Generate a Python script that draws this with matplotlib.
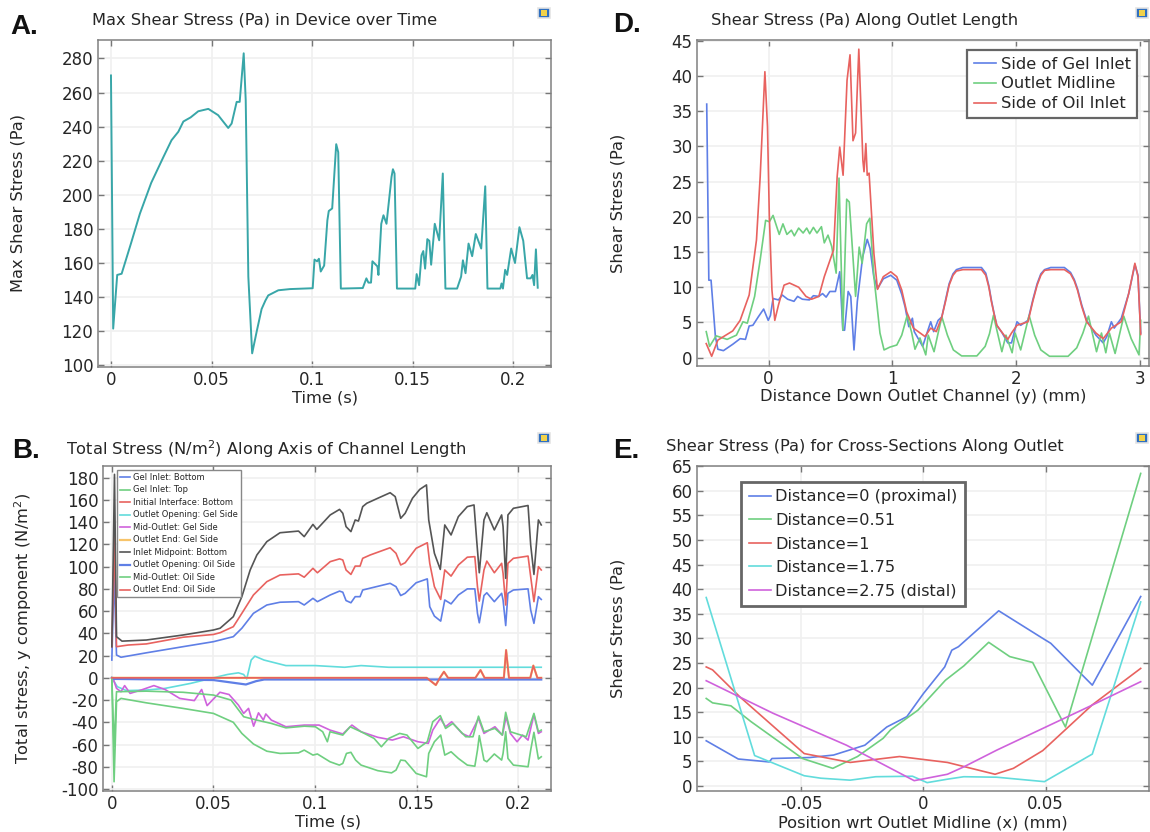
import matplotlib
matplotlib.use("Agg")
import matplotlib.pyplot as plt
from matplotlib.patches import Rectangle

plt.rcParams['font.family'] = ['DejaVu Sans']
plt.rcParams['axes.unicode_minus'] = False

# Each series is a list of (x, value) pairs.
# ---------- Panel A ----------
a_series = [(0,270),(0.0011,121.5),(0.0031,153),(0.0053,153.7),(0.01,171.7),(0.0144,189),(0.02,207),(0.026,222),(0.0301,232),(0.0335,237),(0.036,243),(0.0396,245.4),(0.0434,249),(0.0484,250.4),(0.0533,246.7),(0.0583,239.2),(0.06,241.8),(0.0625,254.5),(0.064,254.5),(0.066,283),(0.067,255.5),(0.0683,152),(0.0702,107),(0.0724,119.5),(0.0749,133),(0.0768,138),(0.0782,141),(0.0832,144),(0.089,144.7),(0.1003,145.2),(0.1012,162),(0.1025,161),(0.1034,162.5),(0.1043,155),(0.106,158.5),(0.1076,185),(0.1083,190.5),(0.110,192),(0.112,229.7),(0.113,225),(0.1143,145),(0.1252,145.3),(0.127,151),(0.128,148.5),(0.1293,148.5),(0.13,161),(0.1325,158),(0.133,153),(0.1344,183),(0.1355,188),(0.137,183),(0.1395,210.5),(0.1402,215),(0.141,212.5),(0.1422,145),(0.1513,145),(0.152,153.5),(0.1532,147),(0.1544,164.5),(0.1553,167),(0.1562,156.7),(0.1573,174),(0.1583,173),(0.1592,159),(0.161,183),(0.1632,173.3),(0.165,212.5),(0.1663,145),(0.1721,145),(0.1741,152),(0.175,161.6),(0.1763,154),(0.1778,171.4),(0.1796,164),(0.1814,177),(0.1841,168.5),(0.1861,205),(0.1872,145),(0.1936,145),(0.1942,148),(0.1949,145),(0.196,156),(0.197,153),(0.199,168.5),(0.2009,160),(0.2031,181),(0.205,173),(0.2069,151),(0.2087,151),(0.2096,153),(0.2104,147),(0.2113,168),(0.2122,145.5)]

# ---------- Panel D ----------
d_blue = [(-0.5,36),(-0.483,11),(-0.465,11),(-0.43,3),(-0.41,1.2),(-0.365,1),(-0.29,1.9),(-0.23,2.7),(-0.187,2.6),(-0.157,4.5),(-0.127,4.6),(-0.083,5.8),(-0.04,6.9),(-0.003,5.3),(0.015,6),(0.036,8.4),(0.08,8.2),(0.11,8.9),(0.154,8.3),(0.205,8),(0.234,8.7),(0.273,8.3),(0.33,8.2),(0.362,8.8),(0.406,8.7),(0.436,9.1),(0.465,8.6),(0.495,9.4),(0.54,9.4),(0.575,12.2),(0.6,3.9),(0.614,3.9),(0.643,9.4),(0.664,8.7),(0.69,1.1),(0.717,8),(0.76,14.3),(0.797,16.8),(0.82,15.5),(0.85,11.5),(0.88,9.8),(0.927,11.2),(0.987,11.7),(1.036,11),(1.076,9),(1.103,7.2),(1.133,4.4),(1.162,5.6),(1.177,3.7),(1.245,1.6),(1.28,3.5),(1.31,5.1),(1.334,3.7),(1.37,5.3),(1.4,5.8),(1.43,8.2),(1.459,10.5),(1.49,11.9),(1.518,12.5),(1.57,12.8),(1.72,12.8),(1.755,12),(1.78,10.2),(1.8,8.2),(1.822,6.3),(1.844,4.6),(1.888,3.5),(1.933,2.1),(1.963,2.1),(2.007,5.1),(2.037,4.6),(2.096,5.3),(2.135,8.2),(2.17,10.5),(2.2,11.9),(2.23,12.5),(2.28,12.8),(2.39,12.8),(2.44,12.1),(2.47,11.1),(2.496,9.8),(2.53,7.5),(2.57,5.3),(2.645,3.2),(2.704,2.1),(2.733,3),(2.77,5.1),(2.793,4.2),(2.85,5.6),(2.91,9.1),(2.96,13.2),(2.985,11.7),(3.007,3.5)]
d_green = [(-0.504,3.7),(-0.477,1.6),(-0.424,3.1),(-0.335,2.6),(-0.26,3.2),(-0.207,5.1),(-0.172,4.9),(-0.113,8.7),(-0.068,13.9),(-0.024,19.5),(0.006,19.3),(0.036,20.2),(0.086,17.5),(0.116,19),(0.148,17.5),(0.184,18.1),(0.208,17.3),(0.243,18.4),(0.279,17.7),(0.308,18.4),(0.332,17.6),(0.362,18.5),(0.391,17.7),(0.427,18.6),(0.45,16.3),(0.48,17.4),(0.51,15.8),(0.546,12),(0.569,25.5),(0.6,3.9),(0.631,22.5),(0.652,22.1),(0.703,8.7),(0.732,15.7),(0.756,13.4),(0.792,19),(0.818,19.8),(0.851,11.5),(0.9,3.5),(0.933,1.1),(0.98,1.5),(1.036,1.8),(1.076,3.2),(1.12,6),(1.157,3.5),(1.183,1.2),(1.223,2.8),(1.27,0.4),(1.29,3.2),(1.337,0.85),(1.37,3.5),(1.4,5.8),(1.445,3.2),(1.493,1.1),(1.56,0.25),(1.683,0.25),(1.75,1.6),(1.785,3.4),(1.817,6),(1.85,3.5),(1.885,0.85),(1.918,3.2),(1.968,0.7),(1.992,3.5),(2.037,1.1),(2.105,6),(2.15,3.2),(2.2,1.1),(2.27,0.2),(2.42,0.2),(2.49,1.4),(2.54,3.5),(2.585,5.9),(2.65,0.85),(2.69,3.5),(2.725,0.7),(2.754,3.5),(2.8,0.6),(2.87,5.9),(2.93,2.7),(2.993,0.4),(3.007,5.3)]
d_red = [(-0.504,2),(-0.46,0.2),(-0.41,2.5),(-0.29,3.8),(-0.23,5.3),(-0.157,8.9),(-0.098,16.7),(-0.068,25.7),(-0.03,40.6),(-0.009,32.8),(0.006,20),(0.027,9.6),(0.05,5.3),(0.08,7.5),(0.125,10.3),(0.169,10.6),(0.243,10),(0.302,8.7),(0.347,8.3),(0.406,8.7),(0.45,11.5),(0.525,15.3),(0.554,25.7),(0.575,29.9),(0.602,25.9),(0.634,39.4),(0.658,43),(0.682,30.8),(0.703,31.9),(0.729,43.8),(0.762,28),(0.771,26.4),(0.786,30.4),(0.797,25.9),(0.812,26.2),(0.851,14.8),(0.88,9.7),(0.927,11.5),(0.987,12.2),(1.036,11.5),(1.076,9.6),(1.116,6.5),(1.17,4.2),(1.264,3),(1.31,4.2),(1.355,3.7),(1.4,5.8),(1.43,8),(1.459,10.3),(1.49,11.7),(1.518,12.3),(1.57,12.5),(1.72,12.5),(1.755,11.7),(1.78,10),(1.8,8),(1.822,6.2),(1.844,4.6),(1.903,3.2),(1.933,2.6),(1.963,3.5),(2.007,4.6),(2.096,5.1),(2.135,8),(2.17,10.3),(2.2,11.7),(2.23,12.4),(2.28,12.5),(2.39,12.5),(2.44,11.9),(2.47,10.9),(2.496,9.6),(2.53,7.3),(2.57,5.1),(2.645,3.5),(2.704,2.7),(2.77,4.2),(2.85,5.1),(2.91,9.1),(2.96,13.4),(2.985,11.5),(3.007,3.3)]

# ---------- Panel B ----------
b_black = [(0,28),(0.0013,183),(0.0023,37),(0.005,33),(0.017,34),(0.035,38.5),(0.05,43),(0.0533,44.6),(0.0598,55),(0.064,73),(0.0681,97),(0.0714,110.5),(0.0763,122.5),(0.0828,130.5),(0.0919,132),(0.0947,127),(0.099,138),(0.1009,133.5),(0.1075,146.5),(0.1121,151.5),(0.1137,148),(0.1153,136),(0.1177,131.5),(0.1198,142),(0.1214,141),(0.1235,154),(0.1255,157),(0.1309,161.5),(0.137,166.5),(0.1395,163),(0.1422,143.5),(0.1444,148),(0.148,161.5),(0.1516,169.5),(0.1549,173.5),(0.156,142),(0.1588,112),(0.1617,97.5),(0.1639,137.5),(0.167,128.5),(0.1706,145),(0.175,154),(0.1783,155.5),(0.1796,124),(0.1809,94.5),(0.1832,142),(0.1846,148.5),(0.1883,133),(0.1919,146.5),(0.1926,136),(0.1939,89.5),(0.195,146.5),(0.1977,152.5),(0.2049,155),(0.2062,119.5),(0.2078,93),(0.21,142),(0.2114,137.5)]
b_red = [(0,28),(0.0013,128),(0.0023,28),(0.008,29.5),(0.017,30.5),(0.035,36.5),(0.05,39),(0.0533,40.6),(0.0598,46),(0.064,58),(0.0697,74.5),(0.0763,86.5),(0.0828,92.5),(0.0919,93.5),(0.0947,90.5),(0.099,98.5),(0.1012,94.5),(0.1075,104.5),(0.1121,107),(0.1137,106),(0.1153,97),(0.1177,93),(0.1198,100.5),(0.1222,100.5),(0.1235,107.5),(0.1272,110.5),(0.137,117),(0.1399,112),(0.1422,101.5),(0.1444,103.5),(0.1498,116.5),(0.1553,121.5),(0.1565,103),(0.1588,82),(0.1619,70.5),(0.1639,97),(0.167,91.5),(0.1706,101.5),(0.175,108.5),(0.1787,109),(0.18,82),(0.1809,69),(0.1832,97),(0.1846,105),(0.1883,94.5),(0.1919,103),(0.1926,94),(0.1939,65.5),(0.195,103),(0.1977,107.5),(0.2049,109.5),(0.2062,91),(0.2078,68.5),(0.21,100),(0.2114,97)]
b_blue = [(0,16),(0.0011,94),(0.0023,20.5),(0.0045,18.5),(0.017,22.5),(0.035,28),(0.05,32.5),(0.0598,37),(0.064,44.6),(0.0697,58),(0.0763,65.5),(0.0828,68),(0.0919,68.5),(0.0947,65.5),(0.099,71.5),(0.1012,68.5),(0.1075,74.5),(0.1121,78),(0.1137,77),(0.1153,69.5),(0.1177,67.5),(0.1198,73),(0.1222,73),(0.1235,79),(0.137,85),(0.1399,82),(0.1422,74),(0.1444,76),(0.1498,85.5),(0.1553,89),(0.1565,64),(0.1588,55.5),(0.1619,51),(0.1639,70),(0.167,66.5),(0.1706,74.5),(0.175,80),(0.1787,80),(0.18,58),(0.1809,49.5),(0.1832,74),(0.1846,76.5),(0.1883,68.5),(0.1919,76),(0.1926,70),(0.1939,47),(0.195,76),(0.1977,79),(0.2049,80),(0.2062,61),(0.2078,49),(0.21,73),(0.2114,70.5)]
b_green = [(0,0),(0.0011,-93.5),(0.0023,-21.5),(0.0045,-18.5),(0.017,-22.5),(0.035,-27.5),(0.05,-32),(0.0598,-40),(0.064,-50),(0.0697,-59.5),(0.0763,-66),(0.0828,-68),(0.0919,-67.5),(0.0947,-65),(0.099,-69.5),(0.1012,-68.5),(0.1074,-75.5),(0.112,-78.5),(0.1137,-77),(0.1155,-68),(0.1177,-67),(0.12,-74),(0.1227,-78.5),(0.1309,-83.5),(0.1377,-85.5),(0.1399,-83),(0.1422,-74),(0.1444,-74.5),(0.1498,-86),(0.1549,-89),(0.156,-68),(0.1588,-57.5),(0.1619,-51.5),(0.1639,-69.5),(0.167,-66.5),(0.1706,-72.5),(0.175,-78.5),(0.1787,-79.5),(0.18,-65),(0.1809,-52),(0.1832,-74),(0.1846,-75.5),(0.1883,-68.5),(0.1919,-74),(0.1926,-68),(0.1939,-48.5),(0.195,-72.5),(0.1977,-78.5),(0.2049,-80),(0.2062,-65),(0.2078,-49),(0.21,-73),(0.2114,-71)]
b_mid_oil_t = [0,0.0011,0.0023,0.017,0.035,0.05,0.0587,0.0649,0.0713,0.0785,0.0857,0.0948,0.1002,0.1038,0.1061,0.1074,0.1137,0.1173,0.1227,0.1291,0.1327,0.1363,0.1417,0.1453,0.1507,0.1553,0.158,0.1617,0.1643,0.1679,0.1742,0.1778,0.1805,0.1832,0.1886,0.1922,0.1939,0.1962,0.204,0.2078,0.21,0.2114]
b_mid_oil = [0,-62,-12.5,-12,-13,-15.5,-20,-35,-38,-41,-45,-43.5,-44,-48.5,-57.5,-48.5,-51.5,-44,-48.5,-54.5,-62,-54.5,-50,-51.5,-63.5,-57.5,-39.5,-34,-45.5,-41,-53,-53,-34.5,-48.5,-45.5,-51.5,-31,-48.5,-53,-32,-48.5,-47]
b_mid_gel_t = [0.0005,0.0023,0.0045,0.0063,0.009,0.0144,0.0207,0.0262,0.0334,0.0406,0.0442,0.0469,0.0532,0.0577,0.0623,0.0649,0.0673,0.0698,0.0722,0.0746,0.0758,0.0785,0.0821,0.0857,0.0948,0.102,0.1074,0.1137,0.1182,0.1227,0.1309,0.1381,0.1435,0.1507,0.1558,0.158,0.1617,0.1643,0.1673,0.1724,0.176,0.1805,0.1832,0.1886,0.1923,0.1941,0.1962,0.1995,0.2022,0.2049,0.2078,0.21,0.2114]
b_mid_gel = [0,-9.5,-12.5,-7,-14,-11,-7,-10.5,-18.5,-20.5,-10.5,-25,-13,-15,-24.5,-32,-27.5,-43.5,-31.5,-38,-32.5,-38,-41,-44,-42.5,-42.5,-47,-50.5,-42.5,-48.5,-53.5,-56,-53,-57.5,-59,-47,-36.5,-44,-39.5,-50,-53,-36.5,-50,-44,-51.5,-35,-50,-57.5,-51.5,-56,-33,-50,-48.5]
b_cyan_t = [0,0.0027,0.0072,0.017,0.0262,0.0388,0.05,0.0569,0.0623,0.0649,0.0664,0.0686,0.0704,0.0749,0.0857,0.1002,0.1146,0.1227,0.1363,0.2114]
b_cyan = [0,-8,-11.5,-11,-9.5,-5,0,3,4.5,3,-1,16,19.5,16,11,11,9.5,11,9.5,9.5]
b_open_oil_t = [0,0.001,0.05,0.066,0.071,0.075,0.2114]
b_open_oil = [0,-1,-2,-6,-3,-1.5,-1.5]
b_end_t = [0,0.155,0.1595,0.1615,0.1635,0.1655,0.179,0.1815,0.1835,0.193,0.1941,0.1955,0.206,0.2075,0.2095,0.2114]
b_end = [0,0,-6.5,0,5.5,0,0,7,0,0,25,0,0,11,0,0]
b_labels = ["Gel Inlet: Bottom","Gel Inlet: Top","Initial Interface: Bottom","Outlet Opening: Gel Side","Mid-Outlet: Gel Side","Outlet End: Gel Side","Inlet Midpoint: Bottom","Outlet Opening: Oil Side","Mid-Outlet: Oil Side","Outlet End: Oil Side"]

# ---------- Panel E ----------
e_blue_x = [-0.0889,-0.0758,-0.0631,-0.062,-0.0465,-0.0368,-0.024,-0.015,-0.0068,0,0.0087,0.0116,0.0143,0.0308,0.0488,0.0521,0.0691,0.0889]
e_blue = [9.2,5.5,4.9,5.6,5.8,6.3,8.3,12,14.1,18.8,24.2,27.6,28.3,35.6,30,29,20.5,38.5]
e_green_x = [-0.0889,-0.0863,-0.0788,-0.0706,-0.0495,-0.0371,-0.027,-0.0165,-0.0135,-0.0023,0.009,0.0165,0.0267,0.0353,0.0447,0.0581,0.0889]
e_green = [17.8,16.9,16.3,13.1,5.6,3.6,6,9.7,11.4,15.4,21.5,24.4,29.2,26.3,25.1,12,63.5]
e_red_x = [-0.0889,-0.0863,-0.0751,-0.0488,-0.03,-0.0098,0.0098,0.0293,0.0368,0.0488,0.0691,0.0889]
e_red = [24.2,23.6,18.1,6.6,4.8,6,4.8,2.4,3.6,7.2,16.5,23.9]
e_cyan_x = [-0.0889,-0.0691,-0.0488,-0.042,-0.03,-0.0195,-0.0045,0.0015,0.0098,0.0165,0.03,0.0495,0.0691,0.0889]
e_cyan = [38.3,6.2,2.1,1.6,1.2,1.9,2,0.7,1.4,1.9,1.8,0.9,6.5,37.4]
e_mag_x = [-0.0889,-0.0616,-0.0315,-0.0038,0.0098,0.0165,0.03,0.0676,0.0889]
e_mag = [21.4,14.8,8.3,1.1,2.4,3.9,7.3,16.1,21.2]
e_labels = ["Distance=0 (proximal)","Distance=0.51","Distance=1","Distance=1.75","Distance=2.75 (distal)"]
d_labels = ["Side of Gel Inlet","Outlet Midline","Side of Oil Inlet"]

BLUE, GREEN, RED = '#5f7fe6', '#6fcf80', '#e8625f'
CYAN, MAG, ORANGE, BLACK, TEAL = '#62dcdc', '#cf62dc', '#f7c46a', '#555555', '#38a6a8'
TXT = '#262626'
W, H = 1150, 832
LW = 1.2
FS = 11.7
fig = plt.figure(figsize=(W/100, H/100), dpi=100)

def xs(p): return [q[0] for q in p]
def ys(p): return [q[1] for q in p]

def make_axes(l, t, r, b, xlim, ylim, xticks, xlabs, yticks):
    ax = fig.add_axes([l/W, 1-b/H, (r-l)/W, (b-t)/H])
    ax.set_xlim(*xlim); ax.set_ylim(*ylim)
    ax.set_xticks(xticks); ax.set_xticklabels(xlabs)
    ax.set_yticks(yticks); ax.set_yticklabels([str(v) for v in yticks])
    ax.grid(True, color='#f0f0f0', lw=1.2)
    ax.set_axisbelow(True)
    ax.tick_params(direction='in', length=4, width=1, color='#777777', top=True, right=True,
                   labelsize=12, labelcolor=TXT, pad=3)
    for n, s in ax.spines.items():
        s.set_color('#808080'); s.set_linewidth(1.1)
    return ax

def labels(ax, title, tx, ty, xl, xx, xy, yl, yx, yy, letter, lx, ly):
    tt = ax.set_title(title, loc='left', y=1, fontsize=FS, color=TXT)
    tt.set_transform(fig.transFigure); tt.set_position((tx/W, 1-ty/H)); tt.set_va('center')
    ax.set_xlabel(xl, fontsize=FS, color=TXT, va='center')
    ax.xaxis.set_label_coords(xx/W, 1-xy/H, transform=fig.transFigure)
    ax.set_ylabel(yl, fontsize=FS, color=TXT, va='center')
    ax.yaxis.set_label_coords(yx/W, 1-yy/H, transform=fig.transFigure)
    fig.text(lx/W, 1-ly/H, letter, fontsize=20, fontweight='bold', family='Liberation Sans', color='#111111', va='center')

def icon(x, y):
    fig.add_artist(Rectangle(((x-6)/W, 1-(y+5)/H), 12/W, 10/H, transform=fig.transFigure, fc='#2f6fc0', ec='#e4e4e4', lw=1.2))
    fig.add_artist(Rectangle(((x-3)/W, 1-(y+3)/H), 6/W, 6/H, transform=fig.transFigure, fc='#f2d24a', ec='none'))

def style_legend(leg, lw=1.6, col='#666666'):
    f = leg.get_frame(); f.set_edgecolor(col); f.set_linewidth(lw); f.set_alpha(1); f.set_facecolor('white')
    for t in leg.get_texts():
        t.set_color(TXT)

# A
axA = make_axes(97.5, 40, 551, 367, (-0.0067, 0.2188), (99, 290.8),
                [0,0.05,0.1,0.15,0.2], ['0','0.05','0.1','0.15','0.2'], list(range(100,281,20)))
axA.plot(xs(a_series), ys(a_series), color=TEAL, lw=LW+0.2)
labels(axA, "Max Shear Stress (Pa) in Device over Time", 92, 20, "Time (s)", 324.5, 398,
       "Max Shear Stress (Pa)", 18, 203, "A.", 10, 27)

# D
axD = make_axes(696.7, 40, 1149, 366, (-0.581, 3.074), (-1.18, 45.1),
                [0,1,2,3], ['0','1','2','3'], list(range(0,46,5)))
axD.plot(xs(d_blue), ys(d_blue), color=BLUE, lw=LW, label=d_labels[0])
axD.plot(xs(d_green), ys(d_green), color=GREEN, lw=LW, label=d_labels[1])
axD.plot(xs(d_red), ys(d_red), color=RED, lw=LW, label=d_labels[2])
labels(axD, "Shear Stress (Pa) Along Outlet Length", 711, 20, "Distance Down Outlet Channel (y) (mm)", 923, 397,
       "Shear Stress (Pa)", 618, 203, "D.", 613, 25)
legD = axD.legend(loc='upper left', bbox_to_anchor=(967/W, 1-50/H), bbox_transform=fig.transFigure,
                  fontsize=11.8, fancybox=False, borderaxespad=0, borderpad=0.4,
                  labelspacing=0.3, handlelength=1.35, handletextpad=0.3)
style_legend(legD)

# B
axB = make_axes(102.7, 465.7, 551, 791, (-0.0045, 0.2162), (-101.8, 190.8),
                [0,0.05,0.1,0.15,0.2], ['0','0.05','0.1','0.15','0.2'], list(range(-100,181,20)))
axB.plot(xs(b_blue), ys(b_blue), color=BLUE, lw=LW, label=b_labels[0])
axB.plot(xs(b_green), ys(b_green), color=GREEN, lw=LW, label=b_labels[1])
axB.plot(xs(b_red), ys(b_red), color=RED, lw=LW, label=b_labels[2])
axB.plot(b_cyan_t, b_cyan, color=CYAN, lw=LW, label=b_labels[3])
axB.plot(b_mid_gel_t, b_mid_gel, color=MAG, lw=LW, label=b_labels[4])
axB.plot(b_end_t, b_end, color=ORANGE, lw=LW+0.4, label=b_labels[5])
axB.plot(xs(b_black), ys(b_black), color=BLACK, lw=LW, label=b_labels[6])
axB.plot(b_open_oil_t, b_open_oil, color=BLUE, lw=LW+0.4, label=b_labels[7])
axB.plot(b_mid_oil_t, b_mid_oil, color=GREEN, lw=LW, label=b_labels[8])
axB.plot(b_end_t, b_end, color=RED, lw=LW, label=b_labels[9])
labels(axB, "Total Stress (N/m$^2$) Along Axis of Channel Length", 66, 449, "Time (s)", 328, 822,
       "Total stress, y component (N/m$^2$)", 23, 628, "B.", 12, 451)
legB = axB.legend(loc='upper left', bbox_to_anchor=(116.6/W, 1-470/H), bbox_transform=fig.transFigure,
                  fontsize=6, fancybox=False, borderaxespad=0, borderpad=0.3, labelspacing=0.4,
                  handlelength=1.2, handletextpad=0.4, borderaxespad_=None) if False else axB.legend(
                  loc='upper left', bbox_to_anchor=(116.6/W, 1-470/H), bbox_transform=fig.transFigure,
                  fontsize=6, fancybox=False, borderaxespad=0, borderpad=0.35, labelspacing=0.42,
                  handlelength=1.2, handletextpad=0.4)
style_legend(legB, 1.0, '#888888')

# E
axE = make_axes(696.7, 465.7, 1149, 791, (-0.0928, 0.0923), (-1.0, 65.07),
                [-0.05,0,0.05], ['-0.05','0','0.05'], list(range(0,66,5)))
axE.plot(e_blue_x, e_blue, color=BLUE, lw=LW, label=e_labels[0])
axE.plot(e_green_x, e_green, color=GREEN, lw=LW, label=e_labels[1])
axE.plot(e_red_x, e_red, color=RED, lw=LW, label=e_labels[2])
axE.plot(e_cyan_x, e_cyan, color=CYAN, lw=LW, label=e_labels[3])
axE.plot(e_mag_x, e_mag, color=MAG, lw=LW, label=e_labels[4])
labels(axE, "Shear Stress (Pa) for Cross-Sections Along Outlet", 665.6, 446, "Position wrt Outlet Midline (x) (mm)", 923, 822.7,
       "Shear Stress (Pa)", 618, 628, "E.", 613, 451)
legE = axE.legend(loc='upper left', bbox_to_anchor=(740.8/W, 1-481.7/H), bbox_transform=fig.transFigure,
                  fontsize=11.6, fancybox=False, borderaxespad=0, borderpad=0.48, labelspacing=0.53,
                  handlelength=1.37, handletextpad=0.3)
style_legend(legE, 2.0)

for p in [(544, 13), (1142, 13), (544, 438), (1142, 438)]:
    icon(*p)

fig.savefig('out.png', dpi=100)
